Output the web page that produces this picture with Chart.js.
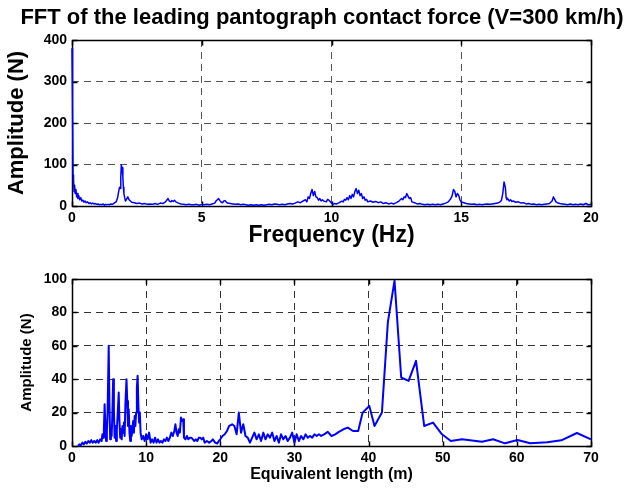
<!DOCTYPE html>
<html>
<head>
<meta charset="utf-8">
<script src="https://cdn.jsdelivr.net/npm/chart.js@4.4.0/dist/chart.umd.min.js"></script>
<style>
  html, body { margin: 0; padding: 0; background: #fff; }
  #wrap { position: relative; width: 640px; height: 489px; }
  #topBox { position: absolute; left: 0; top: 0; width: 640px; height: 250px; }
  #botBox { position: absolute; left: 0; top: 250px; width: 640px; height: 239px; }
</style>
</head>
<body>
<div id="wrap">
  <div id="topBox"><canvas id="fftChart" width="640" height="250"></canvas></div>
  <div id="botBox"><canvas id="lenChart" width="640" height="239"></canvas></div>
</div>
<script>
// FFT spektrumu (ust grafik)
const topFreq = [
  0.00, 0.02, 0.04, 0.06, 0.08, 0.10, 0.12, 0.15, 0.18, 0.20, 0.23, 0.26, 0.30, 0.34, 0.38, 0.42, 0.46, 0.50,
  0.55, 0.60, 0.65, 0.70, 0.75, 0.80, 0.85, 0.90, 0.95, 1.00, 1.05, 1.10, 1.15, 1.20, 1.25, 1.30, 1.35, 1.40,
  1.45, 1.50, 1.55, 1.60, 1.65, 1.70, 1.75, 1.80, 1.83, 1.86, 1.88, 1.90, 1.93, 1.96, 1.98, 2.00, 2.03, 2.06,
  2.10, 2.15, 2.20, 2.25, 2.30, 2.40, 2.50, 2.60, 2.70, 2.80, 2.90, 3.00, 3.10, 3.20, 3.30, 3.40, 3.50, 3.60,
  3.65, 3.70, 3.75, 3.80, 3.85, 3.90, 3.95, 4.00, 4.10, 4.20, 4.30, 4.40, 4.50, 4.60, 4.70, 4.80, 4.90, 5.00,
  5.10, 5.20, 5.30, 5.40, 5.50, 5.55, 5.60, 5.65, 5.70, 5.75, 5.80, 5.85, 5.90, 5.95, 6.00, 6.10, 6.20, 6.30,
  6.40, 6.50, 6.60, 6.70, 6.80, 6.90, 7.00, 7.10, 7.20, 7.30, 7.40, 7.50, 7.60, 7.70, 7.80, 7.90, 8.00, 8.10,
  8.20, 8.30, 8.40, 8.50, 8.60, 8.70, 8.80, 8.90, 9.00, 9.05, 9.10, 9.15, 9.20, 9.25, 9.30, 9.35, 9.40, 9.45,
  9.50, 9.55, 9.60, 9.65, 9.70, 9.80, 9.85, 9.90, 9.95, 10.00, 10.05, 10.10, 10.20, 10.30, 10.40, 10.45, 10.50,
  10.55, 10.60, 10.65, 10.70, 10.75, 10.80, 10.85, 10.90, 10.95, 11.00, 11.05, 11.10, 11.15, 11.20, 11.25,
  11.30, 11.35, 11.40, 11.50, 11.60, 11.70, 11.80, 11.90, 12.00, 12.10, 12.20, 12.30, 12.40, 12.50, 12.60,
  12.70, 12.75, 12.80, 12.85, 12.90, 12.95, 13.00, 13.05, 13.10, 13.20, 13.30, 13.40, 13.50, 13.60, 13.70,
  13.80, 13.90, 14.00, 14.10, 14.20, 14.30, 14.40, 14.50, 14.60, 14.65, 14.70, 14.75, 14.80, 14.85, 14.90,
  14.95, 15.00, 15.10, 15.20, 15.30, 15.40, 15.50, 15.60, 15.70, 15.80, 15.90, 16.00, 16.10, 16.20, 16.30,
  16.40, 16.50, 16.55, 16.60, 16.65, 16.70, 16.73, 16.76, 16.80, 16.85, 16.90, 16.95, 17.00, 17.10, 17.20,
  17.30, 17.40, 17.50, 17.60, 17.70, 17.80, 17.90, 18.00, 18.10, 18.20, 18.30, 18.40, 18.50, 18.55, 18.60,
  18.65, 18.70, 18.80, 18.90, 19.00, 19.10, 19.20, 19.30, 19.40, 19.50, 19.60, 19.70, 19.80, 19.90, 20.00
];
const topAmp = [
  380, 250, 75, 60, 35, 50, 30, 40, 22, 30, 18, 25, 15, 20, 12, 14, 9, 12,
  8, 10, 6, 8, 5, 7, 5, 6, 4, 5, 3, 4, 3, 5, 2, 4, 3, 4,
  3, 5, 4, 6, 8, 10, 18, 35, 45, 42, 70, 99, 92, 70, 45, 30, 20, 12,
  16, 22, 15, 12, 9, 8, 6, 7, 5, 6, 4, 5, 4, 6, 4, 7, 6, 10,
  14, 18, 12, 10, 13, 11, 14, 10, 7, 5, 4, 3, 4, 3, 3, 4, 2, 4,
  3, 4, 3, 5, 7, 12, 15, 18, 13, 9, 8, 12, 13, 9, 7, 6, 5, 4,
  5, 3, 4, 3, 2, 3, 2, 3, 2, 3, 2, 3, 4, 3, 5, 4, 3, 4,
  3, 5, 6, 5, 7, 10, 8, 12, 15, 10, 22, 18, 30, 40, 25, 35, 22, 20,
  14, 18, 12, 15, 12, 10, 16, 14, 11, 7, 4, 6, 5, 8, 12, 10, 16,
  14, 20, 15, 25, 18, 28, 22, 35, 42, 30, 38, 25, 30, 18, 22,
  14, 16, 10, 12, 9, 11, 8, 10, 6, 8, 5, 7, 5, 8, 12,
  18, 15, 22, 20, 30, 24, 18, 20, 10, 8, 5, 6, 4, 3, 4,
  3, 4, 3, 4, 3, 5, 7, 10, 18, 25, 40, 35, 22, 30, 26,
  15, 10, 8, 6, 5, 4, 5, 3, 4, 3, 4, 5, 4, 5, 6,
  7, 10, 14, 30, 58, 45, 20, 15, 17, 12, 15, 11, 12, 9, 10,
  7, 8, 5, 6, 4, 5, 3, 4, 3, 4, 5, 6, 12, 22, 16,
  10, 8, 6, 5, 4, 3, 5, 3, 4, 3, 5, 3, 6, 3, 4
];

// Esdeger dalga boyu spektrumu (alt grafik)
const lenMeters = [
  0.8, 1.0, 1.2, 1.4, 1.6, 1.8, 2.0, 2.2, 2.4, 2.6, 2.8, 3.0, 3.2, 3.4, 3.6, 3.8, 4.0, 4.1, 4.2, 4.3,
  4.4, 4.5, 4.6, 4.7, 4.8, 4.95, 5.05, 5.15, 5.25, 5.35, 5.45, 5.55, 5.65, 5.75, 5.85, 5.95, 6.05, 6.15,
  6.3, 6.4, 6.5, 6.6, 6.7, 6.8, 6.9, 7.0, 7.1, 7.2, 7.35, 7.45, 7.55, 7.65, 7.75, 7.85, 7.95, 8.05, 8.15,
  8.25, 8.35, 8.45, 8.55, 8.65, 8.75, 8.85, 8.95, 9.05, 9.15, 9.25, 9.4, 9.6, 9.8, 10.0, 10.2, 10.4, 10.6,
  10.8, 11.0, 11.2, 11.4, 11.6, 11.8, 12.0, 12.2, 12.4, 12.6, 12.8, 13.0, 13.2, 13.4, 13.6, 13.8, 13.95,
  14.1, 14.25, 14.4, 14.55, 14.7, 14.85, 15.0, 15.1, 15.3, 15.5, 15.7, 15.9, 16.1, 16.3, 16.5, 16.7, 16.9,
  17.1, 17.3, 17.5, 17.7, 17.9, 18.2, 18.5, 18.8, 19.0, 19.3, 19.6, 19.8, 20.0, 20.3, 20.6, 20.9, 21.2,
  21.6, 21.9, 22.2, 22.5, 22.8, 23.1, 23.4, 23.7, 24.0, 24.3, 24.6, 24.9, 25.2, 25.5, 25.8, 26.1, 26.4,
  26.7, 27.0, 27.3, 27.6, 27.9, 28.2, 28.5, 28.8, 29.1, 29.4, 29.7, 30.0, 30.3, 30.6, 30.9, 31.2, 31.5,
  31.8, 32.1, 32.4, 32.7, 33.0, 33.3, 33.6, 34.0, 34.5, 35.0, 35.5, 36.0, 36.6, 37.2, 37.9, 38.6, 39.2,
  40.1, 40.8, 41.8, 42.6, 43.5, 44.4, 45.4, 46.4, 47.5, 48.7, 49.9, 51.1, 52.6, 55.3, 56.8, 58.4, 60.1,
  61.8, 64.1, 66.0, 68.1, 70.0
];
const lenAmp = [
  0, 1, 0.5, 2, 1, 2.5, 1.5, 3, 2, 3.5, 2, 3, 2, 3.5, 2, 4, 3, 7, 5, 10,
  25, 12, 3, 8, 20, 60, 25, 4, 10, 6, 20, 40, 22, 5, 12, 3, 10, 18,
  32, 15, 5, 10, 4, 12, 8, 14, 6, 25, 40, 27, 12, 22, 8, 3, 12, 6, 10,
  15, 8, 18, 12, 20, 35, 42, 25, 14, 20, 8, 4, 6, 3, 7, 4, 8, 2,
  4, 2, 5, 2, 4, 2, 3, 2, 4, 3, 5, 3, 5, 8, 6, 9, 13,
  8, 6, 10, 8, 17, 15, 16, 5, 4, 6, 4, 5, 5, 4, 3, 4, 3,
  5, 5, 4, 5, 2, 3, 2, 3, 4, 2, 1.5, 3, 4, 6, 7, 9, 12,
  13, 12, 7, 20, 8, 13, 6, 5, 2, 5, 8, 4, 7, 3, 8, 4, 7,
  5, 8, 3, 6, 2, 7, 4, 6, 3, 5, 8, 2, 7, 3, 6, 4, 7,
  5, 6, 5, 7, 6, 7, 6, 7, 8.5, 6, 7, 8.5, 10, 11, 9, 9, 20,
  24, 12, 20, 74, 99, 41, 39, 51, 12, 14, 7, 3, 4, 2.6, 4, 1.6, 3.6,
  1.6, 2.2, 3.4, 7.8, 4
];

const fontFam = "'Liberation Sans', Arial, Helvetica, sans-serif";

// Kutu cercevesi ve ice dogru tik isaretleri (cizgiden once cizilir)
const boxTicks = {
    id: 'boxTicks',
    beforeDatasetsDraw(chart) {
        const { ctx, chartArea: a, scales } = chart;
        const L = Math.round(a.left) + 0.5, R = Math.round(a.right) + 0.5;
        const T = Math.round(a.top) + 0.5, B = Math.round(a.bottom) + 0.5;
        ctx.save();
        ctx.setLineDash([]);
        ctx.strokeStyle = '#000';
        ctx.lineWidth = 1.5;
        ctx.strokeRect(L, T, R - L, B - T);
        ctx.beginPath();
        scales.x.ticks.forEach(t => {
            const px = Math.round(scales.x.getPixelForValue(t.value)) + 0.5;
            ctx.moveTo(px, B); ctx.lineTo(px, B - 5);
            ctx.moveTo(px, T); ctx.lineTo(px, T + 5);
        });
        scales.y.ticks.forEach(t => {
            const py = Math.round(scales.y.getPixelForValue(t.value)) + 0.5;
            ctx.moveTo(L, py); ctx.lineTo(L + 5, py);
            ctx.moveTo(R, py); ctx.lineTo(R - 5, py);
        });
        ctx.stroke();
        ctx.restore();
    }
};

function makeChart(el, cfg) {
    return new Chart(document.getElementById(el), {
        type: 'line',
        data: {
            datasets: [{
                data: cfg.xs.map((x, i) => ({ x: x, y: cfg.ys[i] })),
                borderColor: '#0000ff',
                borderWidth: cfg.lineW,
                borderJoinStyle: 'round',
                pointRadius: 0,
                tension: 0,
                fill: false,
                clip: 4
            }]
        },
        options: {
            responsive: false,
            animation: false,
            layout: { padding: { left: 4, right: 0, top: cfg.padTop, bottom: 0 } },
            plugins: {
                legend: { display: false },
                tooltip: { enabled: false },
                title: cfg.title ? {
                    display: true,
                    text: cfg.title,
                    color: '#000',
                    font: { family: fontFam, size: 22, weight: 'bold' },
                    padding: { top: 5, bottom: 8.6 }
                } : { display: false }
            },
            scales: {
                x: {
                    type: 'linear',
                    min: 0,
                    max: cfg.xMax,
                    afterFit: s => { s.height = cfg.xAxisH; },
                    ticks: {
                        stepSize: cfg.xStep,
                        color: '#000',
                        padding: 4,
                        maxRotation: 0,
                        font: { family: fontFam, size: 14, weight: 'bold' }
                    },
                    grid: { color: cfg.gridColor, lineWidth: 1, drawTicks: false },
                    border: { display: false, dash: [7, 5] },
                    title: {
                        display: true,
                        text: cfg.xTitle,
                        color: '#000',
                        font: { family: fontFam, size: cfg.xTitleSize, weight: 'bold' },
                        padding: { top: 0, bottom: cfg.xTitlePad }
                    }
                },
                y: {
                    min: 0,
                    max: cfg.yMax,
                    afterFit: s => { s.width = 68; },
                    ticks: {
                        stepSize: cfg.yStep,
                        color: '#000',
                        padding: 5,
                        font: { family: fontFam, size: 14, weight: 'bold' }
                    },
                    grid: { color: cfg.gridColor, lineWidth: 1, drawTicks: false },
                    border: { display: false, dash: [7, 5] },
                    title: {
                        display: true,
                        text: 'Amplitude (N)',
                        color: '#000',
                        font: { family: fontFam, size: cfg.yTitleSize, weight: 'bold', lineHeight: 1 },
                        padding: { top: cfg.yTitlePad, bottom: 0 }
                    }
                },
                // bos sag eksen: sag kenar boslugu icin
                yRight: {
                    position: 'right',
                    min: 0,
                    max: cfg.yMax,
                    afterFit: s => { s.width = 49; },
                    ticks: { display: false },
                    grid: { display: false },
                    border: { display: false }
                }
            }
        },
        plugins: [boxTicks]
    });
}

makeChart('fftChart', {
    xs: topFreq, ys: topAmp, lineW: 1.5,
    title: 'FFT of the leading pantograph contact force (V=300 km/h)',
    padTop: 0, xMax: 20, xStep: 5, yMax: 400, yStep: 100,
    xAxisH: 44, xTitle: 'Frequency (Hz)', xTitleSize: 23, xTitlePad: 1,
    yTitleSize: 22, yTitlePad: 2, gridColor: '#555'
});

makeChart('lenChart', {
    xs: lenMeters, ys: lenAmp, lineW: 2,
    title: null,
    padTop: 29, xMax: 70, xStep: 10, yMax: 100, yStep: 20,
    xAxisH: 43, xTitle: 'Equivalent length (m)', xTitleSize: 16, xTitlePad: 5,
    yTitleSize: 15, yTitlePad: 15, gridColor: '#333'
});
</script>
</body>
</html>
